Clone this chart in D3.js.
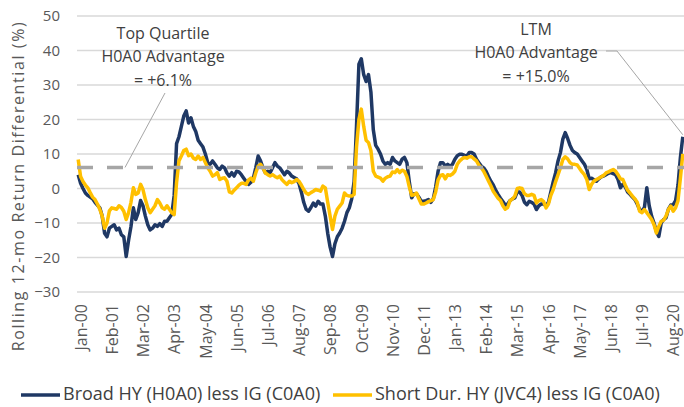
<!DOCTYPE html>
<html lang="en">
<head>
<meta charset="utf-8">
<script src="https://d3js.org/d3.v7.min.js"></script>
<style>
  body { margin: 0; background: #fff; font-family: 'Open Sans', sans-serif; }
  .grid line { stroke: #d9d9d9; stroke-width: 1.3; }
  .axis text { fill: #595959; font-family: 'Open Sans', sans-serif; }
  .axis path, .axis line { display: none; }
  .note { fill: #404040; font-size: 16px; text-anchor: middle; }
  .leader { fill: none; stroke: #a6a6a6; stroke-width: 1; }
  .legend text { fill: #404040; font-size: 18px; }
</style>
</head>
<body>
<svg id="chart" width="684" height="407"></svg>
<script>
// monthly categories Jan-00 .. Jan-21
const months = d3.timeMonth.range(new Date(2000, 0, 1), new Date(2021, 1, 1)).map(d3.timeFormat("%b-%y"));
const tickLabels = ["Jan-00","Feb-01","Mar-02","Apr-03","May-04","Jun-05","Jul-06","Aug-07","Sep-08","Oct-09",
                    "Nov-10","Dec-11","Jan-13","Feb-14","Mar-15","Apr-16","May-17","Jun-18","Jul-19","Aug-20"];
const yTicks = [-30, -20, -10, 0, 10, 20, 30, 40, 50];

// Broad HY (H0A0) less IG (C0A0)
const broadHY = [
  4, 1.5, 0, -1.3, -2, -2.5, -3, -4, -4.8, -5.6,
  -8, -13, -14, -11.5, -11, -10.5, -12, -11.5, -13.4, -14,
  -19.7, -15, -11, -5.6, -9, -7, -3.5, -5, -8, -10.5,
  -12, -11.5, -10.5, -11, -10.2, -11, -9.5, -9.5, -8.5, -7.5,
  -2, 13, 15, 18, 21, 22.5, 19, 20.5, 18, 16.5,
  14, 13, 12, 10, 7.5, 7, 8, 7, 6, 5.5,
  6.5, 6, 4.5, 3.6, 4.6, 3.6, 5, 4.8, 4, 3,
  2, 1.2, 1.8, 3, 6, 9.4, 8, 6, 4.6, 5,
  4.6, 6, 7.5, 6.5, 6, 5, 4, 5, 4.5, 3.6,
  3.2, 2.8, 1.5, -1, -4, -6, -6.6, -5.5, -4.2, -5.1,
  -3.7, -4.5, -4.5, -8, -13, -17, -19.7, -16, -14, -12.9,
  -11.5, -9.5, -7, -5.6, -3, 2, 18, 36, 37.6, 33,
  31, 33, 28, 17, 12.5, 11.4, 10, 8, 7, 7.5,
  7, 9, 8, 7.5, 7, 8.5, 9, 7.5, 2, -2.7,
  -1.5, -1.5, -2.5, -3.7, -3.7, -3.5, -3.2, -4, -3, 0.5,
  5, 7.5, 7.5, 6.5, 7, 6.5, 7, 8.5, 9.5, 9.9,
  9.9, 9.6, 9.4, 10.4, 10.4, 10, 8.5, 7.5, 6.5, 6,
  5, 3.5, 2.1, 1, -0.5, -1.7, -2.8, -3.8, -4.8, -4.5,
  -3.5, -3, -2.7, -1, -1, -2, -4, -4.7, -3.7, -4,
  -4.5, -6.1, -5, -4.5, -4.5, -5, -4, -1, 2, 4.6,
  8, 10.4, 14.3, 16.2, 14.5, 12.5, 11, 10.4, 10, 9,
  8, 7, 5.5, 2.8, 3, 2.5, 2.1, 2.8, 3.4, 3.6,
  4, 4.4, 4.6, 4.3, 4, 2.6, 0.2, 1.2, 0.5, -1,
  -1.7, -2.5, -3.2, -4.5, -6.1, -6.6, -5.5, 0.2, -5, -8,
  -10, -12.5, -13.9, -10, -9, -8.5, -6, -4.8, -4.7, -3.5,
  1, 9, 15
];

// Short Dur. HY (JVC4) less IG (C0A0)
const shortDurHY = [
  8.4, 3.5, 2, 1, 0.2, -1.2, -2.5, -3.2, -4.5, -6,
  -8, -11.5, -10, -6.5, -5.6, -5.8, -6, -5, -5.5, -6.6,
  -9, -7, -4, 0.2, -1.7, -1.3, 1.2, -0.3, -3.2, -5.6,
  -7, -6, -5, -3.2, -4.2, -5.6, -6, -5, -6, -7,
  -7.6, 1.7, 8, 9.4, 11, 11.4, 9.5, 10, 8.8, 8.4,
  9.4, 8.4, 9, 7.5, 6, 5, 3.6, 4, 4.6, 2.6,
  3, 3.1, 2.1, -1, -1.3, -0.5, 0.2, 1, 1.5, 1.5,
  1.2, 2.5, 3, 2.1, 4.5, 6.5, 7, 6, 4.5, 4,
  3.6, 4, 3.5, 3.1, 3.6, 2.5, 1.8, 1.2, 2.1, 1.7,
  2, 2.6, 2.1, 1, -0.3, -1.3, -1.7, -1.2, -0.8, -0.3,
  -0.5, -0.8, 0.7, 0.2, -4, -8, -11.9, -8, -6, -5.1,
  -4.2, -1.3, -2, -2.2, -2.2, -1.7, 12, 20, 23, 18,
  14, 13.3, 11, 5, 3.6, 3.3, 3, 2.1, 3, 3.4,
  3.6, 4.8, 4.6, 5.5, 4.6, 5.3, 5, 3.5, 0.5, -2,
  -1.8, -1.3, -3, -4.5, -4.5, -4.2, -3.8, -3.5, -3.2, -1,
  2.5, 3.8, 4, 2.8, 4, 3.8, 4.2, 5, 7, 8,
  8.6, 9, 8.8, 9.2, 9.2, 8.6, 8, 6.8, 6, 5,
  3.6, 2.2, 0.8, -0.8, -1.8, -2.8, -3.5, -5, -6, -5.5,
  -3.5, -3, -2.2, 0, 0.2, 0, -1.5, -2, -2, -1.7,
  -2, -4.2, -3.5, -3.2, -3.8, -5.6, -4.5, -2, -0.3, 2,
  4, 6, 8.4, 9.2, 8.6, 7.5, 7, 7, 6.8, 5.8,
  4.8, 4, 2.6, -0.3, 1.2, 2.2, 2.6, 3, 3.4, 3.8,
  4.5, 4.8, 5.2, 5.5, 5, 4, 2.8, 2.6, 1, -0.5,
  -1.3, -2.2, -3, -4, -6.6, -7, -6.1, -7, -8, -9,
  -10.5, -12.9, -11, -9.5, -9.2, -8, -6.1, -5.1, -6.6, -5.6,
  -3.5, 3, 10
];

const topQuartile = 6.1;

const svg = d3.select("#chart");
const plot = {left: 77, right: 684, top: 16, bottom: 292};

const x = d3.scaleBand().domain(d3.range(months.length)).range([plot.left, plot.right]);
const y = d3.scaleLinear().domain([-30, 50]).range([plot.bottom, plot.top]);
const cx = i => x(i) + x.bandwidth() / 2;

// gridlines
svg.append("g").attr("class", "grid")
  .selectAll("line").data(yTicks).enter().append("line")
  .attr("x1", plot.left).attr("x2", plot.right)
  .attr("y1", d => y(d)).attr("y2", d => y(d));

// y axis
svg.append("g").attr("class", "axis")
  .attr("transform", `translate(${plot.left},0)`)
  .call(d3.axisLeft(y).tickValues(yTicks).tickSize(0).tickPadding(17))
  .selectAll("text").style("font-size", "15px");

// x axis
const tickIdx = tickLabels.map(l => months.indexOf(l));
svg.append("g").attr("class", "axis")
  .attr("transform", `translate(0,${plot.bottom})`)
  .call(d3.axisBottom(x).tickValues(tickIdx).tickSize(0).tickFormat(i => months[i]))
  .selectAll("text")
  .style("font-size", "16px")
  .attr("transform", "rotate(-90)")
  .attr("text-anchor", "end")
  .attr("x", -12).attr("y", 3).attr("dy", "0.35em");

// y title
svg.append("text")
  .attr("transform", "translate(24,186) rotate(-90)")
  .attr("text-anchor", "middle")
  .style("font-size", "16px").style("letter-spacing", "1.6px")
  .attr("fill", "#595959")
  .text("Rolling 12-mo Return Differential (%)");

// series
const line = d3.line().x((d, i) => cx(i)).y(d => y(d));
svg.append("path").datum(broadHY)
  .attr("d", line).attr("fill", "none")
  .attr("stroke", "#1f3864").attr("stroke-width", 3.5).attr("stroke-linejoin", "round");
svg.append("path").datum(shortDurHY)
  .attr("d", line).attr("fill", "none")
  .attr("stroke", "#ffc000").attr("stroke-width", 3.5).attr("stroke-linejoin", "round");

// top quartile dashed line
svg.append("line")
  .attr("x1", plot.left).attr("x2", plot.right)
  .attr("y1", y(topQuartile)).attr("y2", y(topQuartile))
  .attr("stroke", "#a6a6a6").attr("stroke-width", 3.5).attr("stroke-dasharray", "16,14");

// annotations
const note1 = ["Top Quartile", "H0A0 Advantage", "= +6.1%"];
const note2 = ["LTM", "H0A0 Advantage", "= +15.0%"];
svg.append("g").selectAll("text").data(note1).enter().append("text")
  .attr("class", "note").attr("x", 163).attr("y", (d, i) => 38.5 + i * 23.5).text(d => d);
svg.append("g").selectAll("text").data(note2).enter().append("text")
  .attr("class", "note").attr("x", 536).attr("y", (d, i) => 34.5 + i * 23.5).text(d => d);

svg.append("path").attr("class", "leader")
  .attr("d", `M165,93 L125,${y(topQuartile)}`);
const last = broadHY.length - 1;
svg.append("path").attr("class", "leader")
  .attr("d", `M606,51 L617,51 L${cx(last)},${y(broadHY[last]) - 2}`);

// legend
const legend = svg.append("g").attr("class", "legend");
const items = [
  {label: "Broad HY (H0A0) less IG (C0A0)", color: "#1f3864", x: 21},
  {label: "Short Dur. HY (JVC4) less IG (C0A0)", color: "#ffc000", x: 333}
];
items.forEach(it => {
  legend.append("line").attr("x1", it.x).attr("x2", it.x + 39)
    .attr("y1", 395).attr("y2", 395)
    .attr("stroke", it.color).attr("stroke-width", 3.5);
  legend.append("text").attr("x", it.x + 42).attr("y", 400).text(it.label);
});
</script>
</body>
</html>
